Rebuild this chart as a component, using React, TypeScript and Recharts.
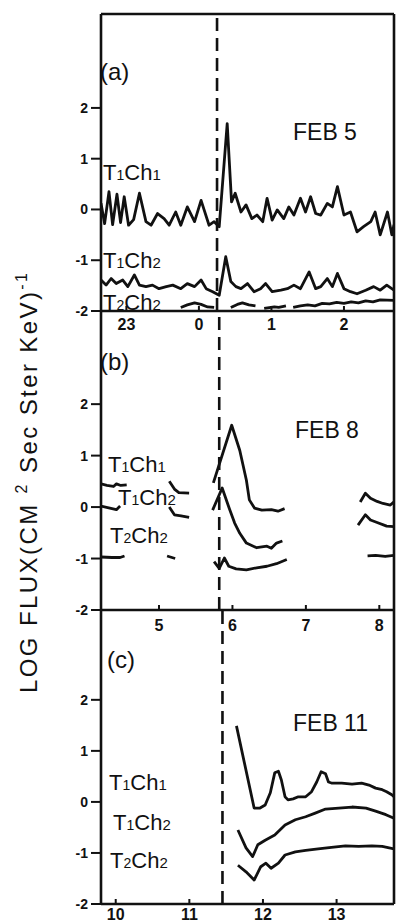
import React from 'react';
import { LineChart, Line, XAxis, YAxis, ReferenceLine } from 'recharts';

type Pt = [number, number | null];

// hours after midnight; panel (a) starts the evening before (23h = -1)
const yTicks = [-2, -1, 0, 1, 2];

const feb5Ticks = [-1, 0, 1, 2];
const feb5TickLabels = ['23', '0', '1', '2'];
const feb5Onset = 0.25;

const feb8Ticks = [5, 6, 7, 8];
const feb8TickLabels = ['5', '6', '7', '8'];
const feb8Onset = 5.82;

const feb11Ticks = [10, 11, 12, 13];
const feb11TickLabels = ['10', '11', '12', '13'];
const feb11Onset = 11.45;

const feb5T1Ch1: Pt[] = [
  [-1.35, 0.12], [-1.3, -0.28], [-1.24, 0.35], [-1.19, -0.3], [-1.13, 0.3], [-1.08, -0.26],
  [-1.03, 0.25], [-0.97, -0.31], [-0.9, -0.2], [-0.82, 0.32], [-0.73, -0.24], [-0.66, -0.31],
  [-0.57, -0.08], [-0.48, -0.18], [-0.41, -0.31],
  [-0.32, -0.05], [-0.25, -0.31], [-0.16, 0.05], [-0.06, -0.24], [0.03, 0.18], [0.14, -0.31],
  [0.21, -0.24], [0.28, -0.34], [0.39, 1.69], [0.45, 0.15], [0.5, 0.32], [0.58, -0.05],
  [0.65, 0.09], [0.73, -0.18], [0.8, -0.11], [0.88, -0.24], [0.94, 0.22], [1.01, -0.21],
  [1.08, -0.01], [1.17, -0.18], [1.24, 0.05], [1.31, -0.11], [1.4, 0.22], [1.47, -0.05],
  [1.54, 0.25], [1.61, -0.08], [1.68, -0.11], [1.77, 0.12], [1.84, 0.05], [1.91, 0.45],
  [2.0, -0.11], [2.09, -0.05], [2.18, -0.44], [2.27, -0.34], [2.37, -0.24], [2.43, -0.05],
  [2.5, -0.5], [2.6, -0.05], [2.66, -0.5], [2.69, -0.3],
];

const feb5T1Ch2: Pt[] = [
  [-1.35, -1.39], [-1.28, -1.49], [-1.21, -1.36], [-1.14, -1.46], [-1.05, -1.39], [-0.98, -1.52],
  [-0.89, -1.29], [-0.82, -1.49], [-0.73, -1.52], [-0.64, -1.49], [-0.55, -1.56], [-0.45, -1.52],
  [-0.36, -1.49], [-0.25, -1.56], [-0.16, -1.46], [-0.06, -1.52], [0.03, -1.39], [0.1, -1.56],
  [0.19, -1.62], [0.28, -1.69], [0.37, -0.93], [0.44, -1.42], [0.51, -1.52], [0.58, -1.56],
  [0.67, -1.46], [0.76, -1.62], [0.85, -1.56], [0.92, -1.46], [1.01, -1.62], [1.13, -1.59],
  [1.22, -1.56], [1.31, -1.49], [1.4, -1.56], [1.52, -1.23], [1.61, -1.56], [1.68, -1.52],
  [1.77, -1.36], [1.84, -1.52], [1.91, -1.26], [2.0, -1.56], [2.09, -1.62], [2.18, -1.66],
  [2.3, -1.59], [2.41, -1.52], [2.5, -1.59], [2.59, -1.49], [2.69, -1.59],
];

const feb5T2Ch2: Pt[] = [
  [-0.25, -1.93], [-0.16, -1.88], [-0.06, -1.84], [0.03, -1.87], [0.12, -1.92], [0.21, -1.93],
  [0.3, null],
  [0.44, -1.93], [0.53, -1.87], [0.6, -1.84], [0.69, -1.88], [0.78, -1.9],
  [0.84, null],
  [0.9, -1.95], [1.04, -1.92], [1.1, -1.93], [1.2, -1.9],
  [1.25, null],
  [1.3, -1.93], [1.4, -1.9], [1.5, -1.88], [1.6, -1.9], [1.7, -1.85], [1.8, -1.86],
  [1.9, -1.83], [2.0, -1.85], [2.1, -1.82], [2.2, -1.84], [2.3, -1.8], [2.4, -1.82],
  [2.5, -1.78], [2.69, -1.79],
];

const feb8T1Ch1: Pt[] = [
  [4.21, 0.45], [4.29, 0.42], [4.38, 0.4], [4.42, 0.45], [4.48, 0.42], [4.56, 0.43],
  [4.8, null],
  [5.14, 0.5], [5.21, 0.35], [5.27, 0.28], [5.41, 0.27],
  [5.6, null],
  [5.74, 0.47], [5.99, 1.59], [6.1, 1.1], [6.19, 0.52], [6.23, 0.14], [6.3, -0.02],
  [6.4, -0.06], [6.53, -0.05], [6.62, -0.08], [6.71, -0.03],
  [7.2, null],
  [7.74, 0.1], [7.81, 0.27], [7.88, 0.17], [7.97, 0.11], [8.05, 0.07], [8.15, 0.04], [8.2, 0.1],
];

const feb8T1Ch2: Pt[] = [
  [4.21, 0.02], [4.33, -0.02], [4.42, -0.05], [4.47, 0.02],
  [4.8, null],
  [5.14, 0.0], [5.21, -0.15], [5.3, -0.17], [5.41, -0.2],
  [5.6, null],
  [5.73, -0.06], [5.86, 0.37], [5.95, 0.0], [6.03, -0.31], [6.1, -0.51], [6.19, -0.7],
  [6.33, -0.79], [6.47, -0.76], [6.53, -0.8], [6.6, -0.7], [6.68, -0.66],
  [7.2, null],
  [7.71, -0.35], [7.81, -0.15], [7.88, -0.25], [7.97, -0.3], [8.1, -0.37], [8.2, -0.38],
];

const feb8T2Ch2: Pt[] = [
  [4.21, -0.97], [4.36, -0.98], [4.47, -0.98], [4.53, -0.95],
  [4.8, null],
  [5.11, -0.95], [5.22, -1.0],
  [5.5, null],
  [5.75, -1.06], [5.82, -1.19], [5.89, -0.99], [5.95, -1.15], [6.05, -1.2], [6.19, -1.22],
  [6.33, -1.18], [6.47, -1.15], [6.6, -1.1], [6.74, -1.02],
  [7.2, null],
  [7.84, -0.95], [7.95, -0.94], [8.08, -0.96], [8.2, -0.94],
];

const feb11T1Ch1: Pt[] = [
  [11.64, 1.49], [11.88, -0.12], [11.96, -0.12], [12.03, -0.06], [12.1, 0.18], [12.16, 0.57],
  [12.21, 0.6], [12.25, 0.43], [12.3, 0.1], [12.34, 0.04], [12.41, 0.06], [12.48, 0.1],
  [12.58, 0.1], [12.66, 0.2], [12.73, 0.39], [12.79, 0.59], [12.85, 0.55], [12.89, 0.39],
  [12.93, 0.37], [13.07, 0.37], [13.21, 0.35], [13.34, 0.37], [13.44, 0.33], [13.53, 0.27],
  [13.62, 0.24], [13.68, 0.2], [13.75, 0.14], [13.78, 0.1],
];

const feb11T1Ch2: Pt[] = [
  [11.66, -0.55], [11.77, -0.9], [11.86, -1.07], [11.93, -0.84], [12.03, -0.75], [12.16, -0.65],
  [12.3, -0.45], [12.44, -0.35], [12.58, -0.29], [12.71, -0.22], [12.85, -0.14], [13.03, -0.12],
  [13.21, -0.1], [13.4, -0.12], [13.53, -0.18], [13.67, -0.25], [13.78, -0.32],
];

const feb11T2Ch2: Pt[] = [
  [11.66, -1.24], [11.77, -1.37], [11.88, -1.53], [11.97, -1.27], [12.04, -1.2], [12.11, -1.3],
  [12.21, -1.2], [12.3, -1.04], [12.44, -0.98], [12.58, -0.95], [12.75, -0.92], [12.93, -0.89],
  [13.12, -0.86], [13.3, -0.87], [13.48, -0.86], [13.62, -0.87], [13.78, -0.92],
];

const INK = '#111';
const FONT = '"Liberation Sans", Arial, sans-serif';

const rows = (pts: Pt[]) => pts.map(([h, v]) => ({ h, v }));

function makeXTick(ticks: number[], labels: string[], dy: number) {
  return (props: any) => {
    const { x, y, payload } = props;
    const label = labels[ticks.indexOf(payload.value)];
    return (
      <g>
        <line x1={x} y1={y} x2={x} y2={y - 5} stroke={INK} strokeWidth={2} />
        <text x={x} y={y + dy} textAnchor="middle" fontSize={16} fontWeight={700} fill={INK} fontFamily={FONT}>
          {label}
        </text>
      </g>
    );
  };
}

interface PanelProps {
  top: number;
  marginTop: number;
  plotHeight: number;
  xDomain: [number, number];
  yMax: number;
  ticks: number[];
  tickLabels: string[];
  labelDy: number;
  onset: number;
  series: Pt[][];
  topBorder?: boolean;
}

function Panel({ top, marginTop, plotHeight, xDomain, yMax, ticks, tickLabels, labelDy, onset, series, topBorder }: PanelProps) {
  const xAxisH = 30;
  return (
    <div style={{ position: 'absolute', left: 0, top }}>
      <LineChart width={397} height={marginTop + plotHeight + xAxisH} margin={{ top: marginTop, right: 3, bottom: 0, left: 0 }}>
        <XAxis
          type="number"
          dataKey="h"
          domain={xDomain}
          allowDataOverflow
          ticks={ticks}
          interval={0}
          height={xAxisH}
          tickSize={0}
          tickMargin={0}
          tickLine={false}
          axisLine={{ stroke: INK, strokeWidth: 2.6 }}
          tick={makeXTick(ticks, tickLabels, labelDy)}
        />
        <YAxis
          type="number"
          domain={[-2, yMax]}
          allowDataOverflow
          ticks={yTicks}
          interval={0}
          width={101}
          tickSize={10}
          tickMargin={3}
          axisLine={{ stroke: INK, strokeWidth: 2.6 }}
          tickLine={{ stroke: INK, strokeWidth: 2 }}
          tick={{ fontSize: 14, fontWeight: 700, fill: INK, fontFamily: FONT }}
        />
        <ReferenceLine x={xDomain[1]} stroke={INK} strokeWidth={2.6} />
        {topBorder && <ReferenceLine y={yMax} stroke={INK} strokeWidth={2.6} />}
        <ReferenceLine x={onset} stroke={INK} strokeWidth={2.6} strokeDasharray="13 7" />
        {series.map((s, i) => (
          <Line
            key={i}
            data={rows(s)}
            dataKey="v"
            type="linear"
            stroke={INK}
            strokeWidth={2.8}
            strokeLinejoin="round"
            dot={false}
            connectNulls={false}
            isAnimationActive={false}
          />
        ))}
      </LineChart>
    </div>
  );
}

function SeriesLabel({ x, y, t, c }: { x: number; y: number; t: string; c: string }) {
  return (
    <text x={x} y={y} fontSize={22} fill={INK} fontFamily={FONT}>
      T<tspan fontSize={14}>{t}</tspan>Ch<tspan fontSize={15}>{c}</tspan>
    </text>
  );
}

export default function App() {
  return (
    <div style={{ position: 'absolute', left: 0, top: 0, width: 397, height: 922, overflow: 'hidden', background: '#fff' }}>
      <Panel
        top={0}
        marginTop={14}
        plotHeight={297}
        xDomain={[-1.35, 2.69]}
        yMax={3.85}
        ticks={feb5Ticks}
        tickLabels={feb5TickLabels}
        labelDy={19}
        onset={feb5Onset}
        series={[feb5T1Ch1, feb5T1Ch2, feb5T2Ch2]}
        topBorder
      />
      <Panel
        top={311}
        marginTop={0}
        plotHeight={299}
        xDomain={[4.21, 8.2]}
        yMax={3.81}
        ticks={feb8Ticks}
        tickLabels={feb8TickLabels}
        labelDy={21}
        onset={feb8Onset}
        series={[feb8T1Ch1, feb8T1Ch2, feb8T2Ch2]}
      />
      <Panel
        top={610}
        marginTop={0}
        plotHeight={294}
        xDomain={[9.8, 13.78]}
        yMax={3.76}
        ticks={feb11Ticks}
        tickLabels={feb11TickLabels}
        labelDy={16}
        onset={feb11Onset}
        series={[feb11T1Ch1, feb11T1Ch2, feb11T2Ch2]}
      />
      <svg width={397} height={922} style={{ position: 'absolute', left: 0, top: 0, pointerEvents: 'none' }}>
        <text
          transform="rotate(-90)"
          x={-693}
          y={37}
          fontSize={24}
          fill={INK}
          fontFamily={FONT}
          textLength={420}
          lengthAdjust="spacing"
        >
          LOG FLUX(CM <tspan fontSize={16} dy={-10}>2</tspan>
          <tspan dy={10}> Sec Ster KeV)</tspan>
          <tspan fontSize={16} dy={-10}>-1</tspan>
        </text>

        <text x={100} y={80} fontSize={24} fill={INK} fontFamily={FONT}>(a)</text>
        <text x={100} y={370} fontSize={24} fill={INK} fontFamily={FONT}>(b)</text>
        <text x={107} y={668} fontSize={24} fill={INK} fontFamily={FONT}>(c)</text>

        <text x={293} y={140} fontSize={23} fill={INK} fontFamily={FONT}>FEB 5</text>
        <text x={295} y={438} fontSize={23} fill={INK} fontFamily={FONT}>FEB 8</text>
        <text x={293} y={731} fontSize={23} fill={INK} fontFamily={FONT}>FEB 11</text>

        <SeriesLabel x={103} y={180} t="1" c="1" />
        <SeriesLabel x={103} y={268} t="1" c="2" />
        <SeriesLabel x={103} y={310} t="2" c="2" />

        <SeriesLabel x={108} y={472} t="1" c="1" />
        <SeriesLabel x={118} y={505} t="1" c="2" />
        <SeriesLabel x={110} y={543} t="2" c="2" />

        <SeriesLabel x={109} y={790} t="1" c="1" />
        <SeriesLabel x={113} y={830} t="1" c="2" />
        <SeriesLabel x={110} y={868} t="2" c="2" />
      </svg>
    </div>
  );
}
